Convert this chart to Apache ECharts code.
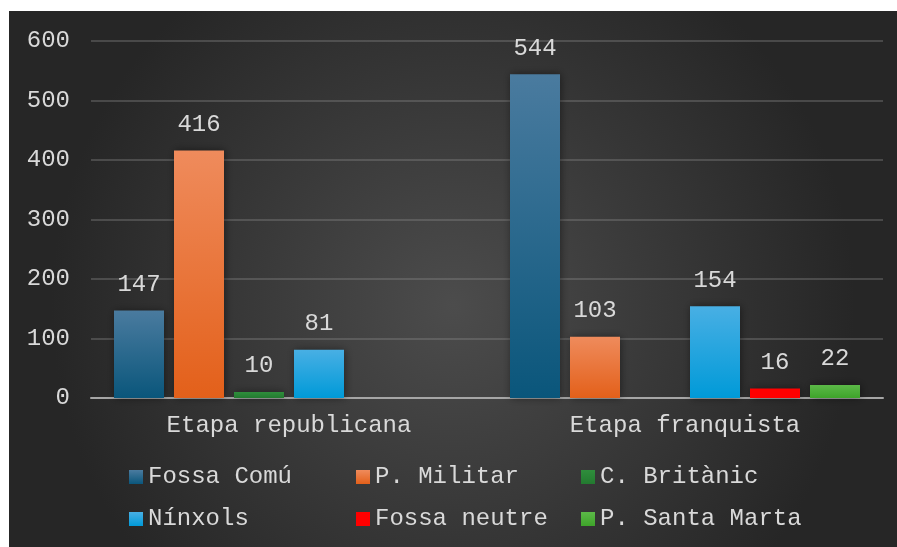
<!DOCTYPE html>
<html>
<head>
<meta charset="utf-8">
<script src="https://cdn.jsdelivr.net/npm/echarts@6/dist/echarts.min.js"></script>
<style>
  html, body { margin: 0; padding: 0; background: #ffffff; }
  #chart { position: absolute; left: 9px; top: 11px; width: 888px; height: 536px; }
</style>
</head>
<body>
<div id="chart"></div>
<script>
const categories = ['Etapa republicana', 'Etapa franquista'];
const fossaComu = [147, 544];
const pMilitar = [416, 103];
const cBritanic = [10, null];
const ninxols = [81, 154];
const fossaNeutre = [null, 16];
const pSantaMarta = [null, 22];
const yTicks = [0, 100, 200, 300, 400, 500, 600];

const FONT = '"Liberation Mono", "DejaVu Sans Mono", monospace';
const TEXT = '#d9d9d9';
const FS = 24;

function grad(top, bottom) {
  return new echarts.graphic.LinearGradient(0, 0, 0, 1, [
    { offset: 0, color: top },
    { offset: 1, color: bottom }
  ]);
}

function barSeries(name, data, color) {
  return {
    name: name,
    type: 'bar',
    data: data,
    barWidth: 50,
    barGap: '20%',
    itemStyle: {
      color: color,
      shadowBlur: 8,
      shadowColor: 'rgba(0,0,0,0.45)',
      shadowOffsetX: 1
    },
    label: {
      show: true,
      position: 'top',
      distance: 14,
      color: TEXT,
      fontFamily: FONT,
      fontSize: FS
    }
  };
}

const chart = echarts.init(document.getElementById('chart'));

const legendText = { color: TEXT, fontFamily: FONT, fontSize: FS };
function legendCol(left, names) {
  return {
    orient: 'vertical',
    left: left,
    top: 454,
    padding: 0,
    itemWidth: 14,
    itemHeight: 14,
    itemGap: 18,
    icon: 'rect',
    textStyle: legendText,
    data: names
  };
}

const option = {
  backgroundColor: new echarts.graphic.RadialGradient(0.5, 0.55, 0.75, [
    { offset: 0, color: '#4c4c4c' },
    { offset: 1, color: '#262626' }
  ]),
  animation: false,
  grid: { left: 82, right: 14, top: 30, bottom: 149, containLabel: false },
  legend: [
    legendCol(120, ['Fossa Comú', 'Nínxols']),
    legendCol(347, ['P. Militar', 'Fossa neutre']),
    legendCol(572, ['C. Britànic', 'P. Santa Marta'])
  ],
  xAxis: {
    type: 'category',
    data: categories,
    axisTick: { show: false },
    axisLine: { lineStyle: { color: '#a6a6a6', width: 2 } },
    axisLabel: { color: TEXT, fontFamily: FONT, fontSize: FS, margin: 16 }
  },
  yAxis: {
    type: 'value',
    min: yTicks[0],
    max: yTicks[yTicks.length - 1],
    interval: 100,
    axisLine: { show: false },
    axisTick: { show: false },
    axisLabel: { color: TEXT, fontFamily: FONT, fontSize: FS, margin: 21 },
    splitLine: { lineStyle: { color: 'rgba(140,140,140,0.35)', width: 2 } }
  },
  series: [
    barSeries('Fossa Comú', fossaComu, grad('#4a7b9f', '#0a567b')),
    barSeries('P. Militar', pMilitar, grad('#ef8b5c', '#e3601a')),
    barSeries('C. Britànic', cBritanic, grad('#2f8e3c', '#237a30')),
    barSeries('Nínxols', ninxols, grad('#48afe4', '#009ad8')),
    barSeries('Fossa neutre', fossaNeutre, '#ff0000'),
    barSeries('P. Santa Marta', pSantaMarta, grad('#5cb948', '#3ea42a'))
  ]
};

chart.setOption(option);
</script>
</body>
</html>
